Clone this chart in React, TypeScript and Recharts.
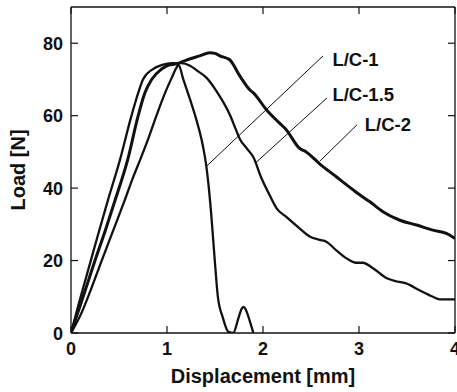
import React from "react";
import { LineChart, Line, XAxis, YAxis, ReferenceLine, ReferenceDot } from "recharts";

// displacement [mm] / load [N]
const LC1_X = [0, 0.1, 0.2, 0.32, 0.45, 0.56, 0.64, 0.72, 0.81, 0.89, 0.98, 1.05, 1.1, 1.12, 1.17, 1.24, 1.31, 1.375, 1.41, 1.43, 1.46, 1.5, 1.53, 1.58, 1.64, 1.69, 1.745, 1.78, 1.8, 1.82, 1.86, 1.9];
const LC1_Y = [0, 5, 11.5, 20, 29, 36.7, 42.5, 47.8, 54, 60, 66.3, 70.5, 73.3, 74, 70, 64.5, 58.5, 51.5, 46, 41.5, 33, 19.2, 10, 4.4, 0.3, 0, 4.2, 6.8, 7.2, 6.5, 3.5, 0];

const LC15_X = [0, 0.08, 0.18, 0.28, 0.385, 0.51, 0.63, 0.7, 0.75, 0.85, 0.95, 1.05, 1.15, 1.24, 1.32, 1.41, 1.51, 1.58, 1.65, 1.72, 1.76, 1.83, 1.9, 1.98, 2.07, 2.14, 2.24, 2.38, 2.49, 2.59, 2.66, 2.76, 2.87, 2.97, 3.04, 3.15, 3.29, 3.42, 3.49, 3.63, 3.77, 3.84, 4.0];
const LC15_Y = [0, 8, 17.5, 27, 36.7, 47.8, 60, 66.3, 70, 72.8, 74, 74.5, 74.5, 73.8, 72.3, 70.5, 67, 64, 60.5, 56, 53.5, 51, 48.5, 43, 38, 34.5, 32.1, 28.9, 26.6, 25.7, 25.2, 22.9, 20.6, 19.4, 19.4, 17.8, 15.1, 14.1, 13.7, 11.8, 10, 9.3, 9.3];

const LC2_X = [0, 0.12, 0.25, 0.36, 0.46, 0.59, 0.7, 0.77, 0.84, 0.94, 1.02, 1.1, 1.13, 1.22, 1.34, 1.445, 1.5, 1.55, 1.65, 1.76, 1.86, 1.9, 2.04, 2.17, 2.24, 2.38, 2.45, 2.59, 2.76, 2.94, 3.0, 3.11, 3.25, 3.42, 3.6, 3.77, 3.91, 4.0];
const LC2_Y = [0, 9.5, 20, 28.5, 36.7, 47.8, 60, 66.3, 70, 72.8, 74, 74.3, 74.6, 75.5, 76.5, 77.4, 77.2, 76.5, 75.5, 70.9, 67.2, 66.3, 61.5, 58, 56.2, 51, 50, 46.7, 43.2, 39.5, 38.3, 36.3, 33.5, 31.2, 29.8, 28.4, 27.5, 26.1];

const X_MAX = 4;
const Y_MAX = 90;
const X_TICKS = [0, 1, 2, 3, 4];
const Y_TICKS = [0, 20, 40, 60, 80];

const LABELS = ["L/C-1", "L/C-1.5", "L/C-2"];
const LEADER_FROM = [{ x: 1.41, y: 46 }, { x: 1.92, y: 46.9 }, { x: 2.59, y: 47.4 }];
const LEADER_TO = [{ x: 2.625, y: 76.5 }, { x: 2.667, y: 64.9 }, { x: 2.98, y: 57.5 }];
const LABEL_AT = [{ x: 2.723, y: 75.5 }, { x: 2.723, y: 65.8 }, { x: 3.06, y: 57.5 }];

const toPoints = (xs: number[], ys: number[]) => xs.map((x, i) => ({ x, y: ys[i] }));

const SERIES = [
  { name: "L/C-1", data: toPoints(LC1_X, LC1_Y), width: 2.3 },
  { name: "L/C-1.5", data: toPoints(LC15_X, LC15_Y), width: 2.3 },
  { name: "L/C-2", data: toPoints(LC2_X, LC2_Y), width: 3 },
];

const FONT = "'Liberation Sans', Arial, Helvetica, sans-serif";
const INK = "#111";
const W = 457;
const H = 392;
const M = { top: 7, right: 2, left: 0, bottom: 0 };
const Y_AXIS_W = 71;
const X_AXIS_H = 59;
const TICK_LEN = 7;

const frame = { stroke: INK, strokeWidth: 1.3 };

function BottomTick(props: any) {
  const { x, y, payload } = props;
  return (
    <g>
      <line x1={x} y1={y} x2={x} y2={y - TICK_LEN} stroke={INK} strokeWidth={1.2} />
      <text x={x} y={y + 22} textAnchor="middle" fontFamily={FONT} fontWeight="bold" fontSize={18} fill={INK}>
        {payload.value}
      </text>
    </g>
  );
}

function LeftTick(props: any) {
  const { x, y, payload } = props;
  return (
    <g>
      <line x1={x} y1={y} x2={x + TICK_LEN} y2={y} stroke={INK} strokeWidth={1.2} />
      <text x={x - 8} y={y + 6.5} textAnchor="end" fontFamily={FONT} fontWeight="bold" fontSize={18} fill={INK}>
        {payload.value}
      </text>
    </g>
  );
}

// short inward tick hanging from the top frame
function TopTickShape(props: any) {
  const { x1, y1, y2 } = props;
  const top = Math.min(y1, y2);
  return <line x1={x1} y1={top} x2={x1} y2={top + TICK_LEN} stroke={INK} strokeWidth={1.2} />;
}

// short inward tick on the right frame
function RightTickShape(props: any) {
  const { x1, x2, y1 } = props;
  const right = Math.max(x1, x2);
  return <line x1={right} y1={y1} x2={right - TICK_LEN} y2={y1} stroke={INK} strokeWidth={1.2} />;
}

const plotLeft = M.left + Y_AXIS_W;
const plotRight = W - M.right;
const plotTop = M.top;
const plotBottom = H - M.bottom - X_AXIS_H;

export default function App() {
  return (
    <div style={{ position: "absolute", left: 0, top: 0, width: W, height: H, background: "#fff" }}>
      <LineChart width={W} height={H} margin={M}>
        <XAxis
          type="number"
          dataKey="x"
          domain={[0, X_MAX]}
          ticks={X_TICKS}
          interval={0}
          allowDataOverflow
          height={X_AXIS_H}
          axisLine={frame}
          tickLine={false}
          tickSize={0}
          tickMargin={0}
          tick={BottomTick}
          label={{
            content: () => (
              <text
                x={(plotLeft + plotRight) / 2}
                y={383}
                textAnchor="middle"
                fontFamily={FONT}
                fontWeight="bold"
                fontSize={20}
                fill={INK}
              >
                Displacement [mm]
              </text>
            ),
          }}
        />
        <YAxis
          type="number"
          domain={[0, Y_MAX]}
          ticks={Y_TICKS}
          interval={0}
          allowDataOverflow
          width={Y_AXIS_W}
          axisLine={frame}
          tickLine={false}
          tickSize={0}
          tickMargin={0}
          tick={LeftTick}
          label={{
            content: () => (
              <text
                x={25}
                y={(plotTop + plotBottom) / 2}
                transform={`rotate(-90 25 ${(plotTop + plotBottom) / 2})`}
                textAnchor="middle"
                fontFamily={FONT}
                fontWeight="bold"
                fontSize={20}
                fill={INK}
              >
                Load [N]
              </text>
            ),
          }}
        />
        {/* top and right frame */}
        <ReferenceLine y={Y_MAX} stroke={INK} strokeWidth={1.3} ifOverflow="visible" />
        <ReferenceLine x={X_MAX} stroke={INK} strokeWidth={1.3} ifOverflow="visible" />
        {X_TICKS.map((t) => (
          <ReferenceLine key={`tt-${t}`} x={t} ifOverflow="visible" shape={TopTickShape} />
        ))}
        {Y_TICKS.map((t) => (
          <ReferenceLine key={`rt-${t}`} y={t} ifOverflow="visible" shape={RightTickShape} />
        ))}
        {SERIES.map((s) => (
          <Line
            key={s.name}
            data={s.data}
            dataKey="y"
            name={s.name}
            type="monotone"
            stroke={INK}
            strokeWidth={s.width}
            dot={false}
            activeDot={false}
            isAnimationActive={false}
          />
        ))}
        {LABELS.map((l, i) => (
          <ReferenceLine
            key={`lead-${l}`}
            segment={[LEADER_FROM[i], LEADER_TO[i]]}
            stroke={INK}
            strokeWidth={1}
            ifOverflow="visible"
          />
        ))}
        {LABELS.map((l, i) => (
          <ReferenceDot
            key={`lab-${l}`}
            x={LABEL_AT[i].x}
            y={LABEL_AT[i].y}
            r={0}
            fill="none"
            stroke="none"
            ifOverflow="visible"
            label={{
              value: l,
              position: "right",
              offset: 0,
              fontFamily: FONT,
              fontWeight: "bold",
              fontSize: 18.5,
              fill: INK,
            }}
          />
        ))}
      </LineChart>
    </div>
  );
}
